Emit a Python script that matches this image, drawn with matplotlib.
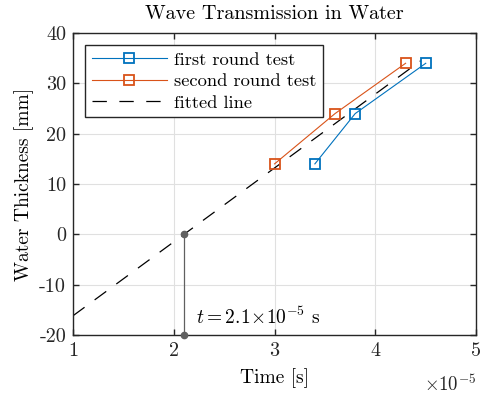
import matplotlib
matplotlib.use("Agg")
import matplotlib.pyplot as plt
import numpy as np

plt.rcParams['font.family'] = ['cmr10', 'DejaVu Serif']
plt.rcParams['mathtext.fontset'] = 'cm'
plt.rcParams['axes.unicode_minus'] = False

# time in units of 1e-5 s, thickness in mm
first_t = [3.4, 3.8, 4.5]
first_d = [14, 24, 34]
second_t = [3.0, 3.6, 4.3]
second_d = [14, 24, 34]
fit_t = [1.0, 4.45]
fit_d = [-16.2, 34.5]
mark_t = [2.1, 2.1]
mark_d = [0, -20]

xticks = [1, 2, 3, 4, 5]
yticks = [-20, -10, 0, 10, 20, 30, 40]

blue = (0, 0.447, 0.741)
orange = (0.85, 0.325, 0.098)

fig = plt.figure(figsize=(4.8, 3.94), dpi=100)
ax = fig.add_axes([0.152, 0.150, 0.840, 0.766])

ax.plot(first_t, first_d, '-s', color=blue, lw=0.8, ms=7.5, mfc='none', mew=1.3,
        label='first round test', zorder=3)
ax.plot(second_t, second_d, '-s', color=orange, lw=0.8, ms=7.5, mfc='none', mew=1.3,
        label='second round test', zorder=3)
ax.plot(fit_t, fit_d, color='black', lw=0.9, dashes=(11.5, 10), label='fitted line', zorder=2)
ax.plot(mark_t, mark_d, '-o', color='#606060', lw=0.9, ms=4.5, zorder=4, clip_on=False)

ax.text(2.22, -17.8, r'$t = 2.1\!\times\!10^{-5}$ s', fontsize=14)

ax.set_xlim(1, 5)
ax.set_ylim(-20, 40)
ax.set_xticks(xticks)
ax.set_yticks(yticks)
ax.set_xticklabels([str(v) for v in xticks])
ax.set_yticklabels([str(v) for v in yticks])
ax.tick_params(direction='in', top=True, right=True, labelsize=14.5, length=4,
               width=1, colors='#262626', pad=5)
ax.grid(True, color='#e0e0e0', lw=0.8)
ax.set_axisbelow(True)
for s in ax.spines.values():
    s.set_color('#262626')
    s.set_linewidth(1)

ax.set_title('Wave Transmission in Water', fontsize=14.5, pad=10)
ax.set_xlabel('Time [s]', fontsize=14, labelpad=6)
ax.set_ylabel('Water Thickness [mm]', fontsize=14, labelpad=4)
ax.text(1.0, -0.13, r'$\times10^{-5}$', transform=ax.transAxes, ha='right',
        va='top', fontsize=13.5, color='#262626')

leg = ax.legend(loc='upper left', bbox_to_anchor=(0.03, 0.96), fontsize=13.3,
                fancybox=False, framealpha=1, edgecolor='#262626',
                handlelength=4.1, handletextpad=0.35, borderpad=0.35,
                labelspacing=0.3, borderaxespad=0)
leg.get_frame().set_linewidth(1)

fig.savefig('out.png', dpi=100)
